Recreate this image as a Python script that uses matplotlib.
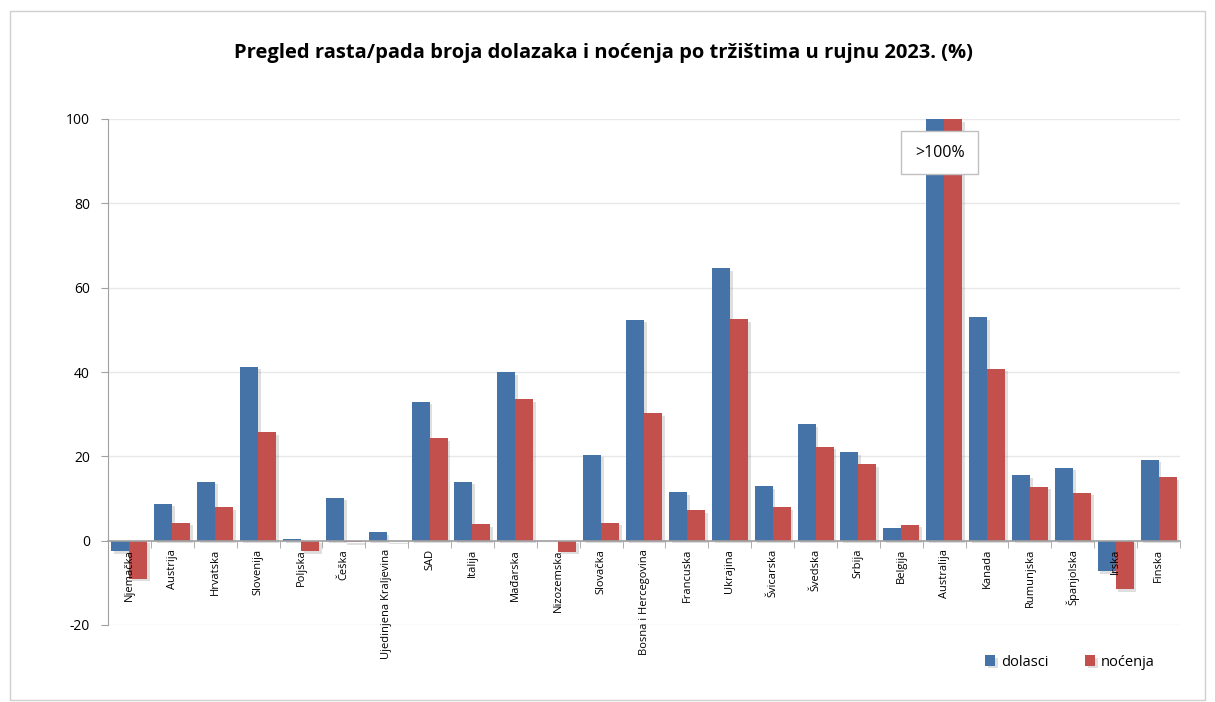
import numpy as np
import matplotlib.pyplot as plt
import matplotlib.patheffects as pe
from matplotlib.patches import Rectangle

plt.rcParams['font.family'] = ['Open Sans', 'DejaVu Sans']
plt.rcParams['axes.unicode_minus'] = False

countries = ["Njemačka", "Austrija", "Hrvatska", "Slovenija", "Poljska", "Češka",
             "Ujedinjena Kraljevina", "SAD", "Italija", "Mađarska", "Nizozemska",
             "Slovačka", "Bosna i Hercegovina", "Francuska", "Ukrajina", "Švicarska",
             "Švedska", "Srbija", "Belgija", "Australija", "Kanada", "Rumunjska",
             "Španjolska", "Irska", "Finska"]
dolasci = [-2.4, 8.8, 14.0, 41.3, 0.5, 10.2, 2.1, 33.0, 14.0, 40.0, 0.0,
           20.4, 52.4, 11.6, 64.7, 13.0, 27.7, 21.0, 3.1, 100.0, 53.1, 15.6,
           17.3, -7.3, 19.2]
nocenja = [-9.0, 4.3, 8.0, 25.8, -2.5, -0.3, -0.1, 24.4, 4.0, 33.6, -2.6,
           4.3, 30.3, 7.3, 52.6, 8.0, 22.3, 18.2, 3.8, 100.0, 40.8, 12.8,
           11.4, -11.4, 15.0]
yticks = [-20, 0, 20, 40, 60, 80, 100]

fig = plt.figure(figsize=(12.15, 7.02), dpi=100)
ax = fig.add_axes([108/1215, 1 - 625/702, (1180-108)/1215, (625-119)/702])

fig.patches.append(Rectangle((10/1215, 2/702), 1195/1215, 689/702, transform=fig.transFigure,
                             fill=False, edgecolor='#d0d0d0', linewidth=1))

# grid behind bars, axis (tick labels) above bars
for t in yticks:
    ax.axhline(t, color='#e8e8e8', linewidth=1, zorder=0)
ax.set_axisbelow(False)

x = np.arange(len(countries))
w = 0.42
shadow = [pe.SimplePatchShadow(offset=(2, -2), shadow_rgbFace='#808080', alpha=0.25), pe.Normal()]
b1 = ax.bar(x - w/2, dolasci, w, color='#4572A7', label='dolasci', zorder=2)
b2 = ax.bar(x + w/2, nocenja, w, color='#C4504E', label='noćenja', zorder=2)
for b in list(b1) + list(b2):
    b.set_path_effects(shadow)

ax.set_xlim(-0.5, len(countries) - 0.5)
ax.set_ylim(-20, 100)
ax.set_yticks(yticks)
ax.tick_params(axis='y', labelsize=10, length=5, color='#a0a0a0', pad=8)

for s in ['top', 'right']:
    ax.spines[s].set_visible(False)
ax.spines['left'].set_color('#a0a0a0')
ax.spines['bottom'].set_position(('data', 0))
ax.spines['bottom'].set_color('#a0a0a0')
ax.spines['bottom'].set_linewidth(1.2)

ax.set_xticks(x)
ax.set_xticklabels(countries, rotation=90, fontsize=8, va='top')
ax.set_xticks(np.arange(-0.5, len(countries)), minor=True)
ax.tick_params(axis='x', which='major', length=0, pad=6)
ax.tick_params(axis='x', which='minor', length=5, color='#a0a0a0')

ax.text(18.9, 92.0, '>100%', ha='center', va='center', fontsize=11.5, zorder=5,
        bbox=dict(boxstyle='square,pad=0.85', facecolor='white', edgecolor='#c0c0c0'))

fig.text(603/1215, 1 - 53/702, 'Pregled rasta/pada broja dolazaka i noćenja po tržištima u rujnu 2023. (%)',
         ha='center', va='center', fontsize=14.5, fontweight='bold')

ax.legend(loc='center', bbox_to_anchor=(1070/1215, 1 - 662/702), bbox_transform=fig.transFigure,
          ncol=2, frameon=False, fontsize=10.5, handlelength=0.7, handleheight=0.7,
          columnspacing=2.5, handletextpad=0.4)

fig.savefig('out.png', dpi=100)
